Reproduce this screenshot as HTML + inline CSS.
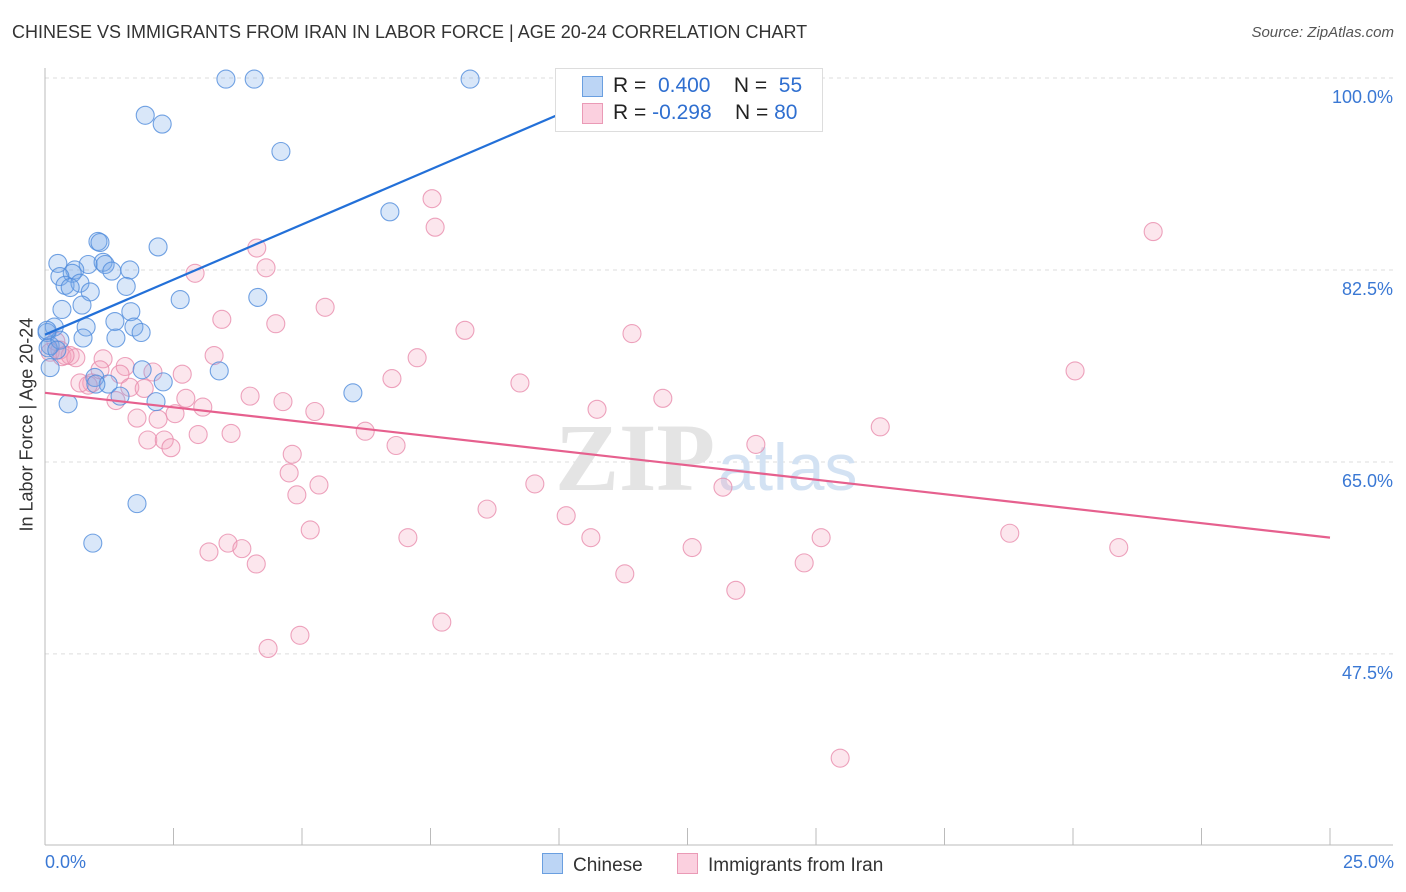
<!DOCTYPE html>
<html><head><meta charset="utf-8"><style>
body{margin:0;background:#fff;font-family:"Liberation Sans",sans-serif;}
#wrap{position:relative;width:1406px;height:892px;overflow:hidden;}
.t{position:absolute;white-space:nowrap;}
</style></head><body>
<div id="wrap">
<div class="t" style="left:12px;top:22px;font-size:18px;color:#333;">CHINESE VS IMMIGRANTS FROM IRAN IN LABOR FORCE | AGE 20-24 CORRELATION CHART</div>
<div class="t" style="right:12px;top:24px;font-size:15px;color:#555;font-style:italic;">Source: ZipAtlas.com</div>
<svg id="svg" width="1406" height="892" style="position:absolute;left:0;top:0"></svg>
</div>
<script>
const blueX=[3.52,4.07,8.27,1.95,2.28,4.59,6.71,2.20,1.03,1.07,0.25,0.84,1.13,1.17,0.58,0.53,1.65,1.30,0.29,0.39,0.68,1.58,0.88,0.49,2.63,4.14,0.33,0.72,1.67,1.36,1.73,0.80,1.87,0.18,0.04,1.38,0.74,0.10,0.06,0.29,1.89,3.39,0.10,2.30,0.97,1.23,1.46,0.45,2.16,5.99,1.79,0.93,0.99,0.23,0.04];
const blueY=[99.9,99.9,99.9,96.6,95.8,93.3,87.8,84.6,85.1,85.0,83.1,83.0,83.2,83.0,82.5,82.2,82.5,82.4,81.9,81.1,81.3,81.0,80.5,80.9,79.8,80.0,78.9,79.3,78.7,77.8,77.3,77.3,76.8,77.3,76.8,76.3,76.3,75.6,75.4,76.1,73.4,73.3,73.6,72.3,72.7,72.1,71.0,70.3,70.5,71.3,61.2,57.6,72.1,75.2,77.0];
const pinkX=[7.53,7.59,21.56,4.12,4.30,2.92,5.45,3.44,4.49,8.17,11.42,20.04,0.21,0.29,0.10,0.33,0.49,0.60,1.13,3.29,7.24,1.56,2.10,2.67,1.46,6.75,9.24,0.91,0.84,1.65,1.93,3.99,4.63,2.74,1.38,3.07,12.02,10.74,5.25,2.53,1.79,2.20,16.25,6.23,3.62,2.98,2.00,2.32,2.45,6.83,13.83,4.81,4.75,9.53,5.33,13.19,4.90,8.60,10.14,5.16,18.77,7.06,10.62,15.10,3.56,12.59,20.89,3.19,3.83,4.11,14.77,11.28,13.44,7.72,4.96,4.34,15.47,0.68,1.07,0.39];
const pinkY=[89.0,86.4,86.0,84.5,82.7,82.2,79.1,78.0,77.6,77.0,76.7,73.3,76.0,75.2,75.0,74.6,74.7,74.5,74.4,74.7,74.5,73.7,73.2,73.0,73.0,72.6,72.2,72.2,72.0,71.8,71.7,71.0,70.5,70.8,70.6,70.0,70.8,69.8,69.6,69.4,69.0,68.9,68.2,67.8,67.6,67.5,67.0,67.0,66.3,66.5,66.6,65.7,64.0,63.0,62.9,62.7,62.0,60.7,60.1,58.8,58.5,58.1,58.1,58.1,57.6,57.2,57.2,56.8,57.1,55.7,55.8,54.8,53.3,50.4,49.2,48.0,38.0,72.2,73.4,74.7];
const blueTrendX=[0,12];
const blueTrendY=[76.6,100.7];
const pinkTrendX=[0,25];
const pinkTrendY=[71.3,58.1];
const yTicks=[100,82.5,65,47.5];
const yTickLabels=["100.0%","82.5%","65.0%","47.5%"];

const NS="http://www.w3.org/2000/svg";
const svg=document.getElementById('svg');
const sx=v=>45+v/25*1285;
const sy=v=>78+(100-v)*10.97;
function mk(tag,attrs,parent){const e=document.createElementNS(NS,tag);for(const k in attrs)e.setAttribute(k,attrs[k]);(parent||svg).appendChild(e);return e;}

yTicks.forEach((t,i)=>{
  const g=mk('line',{x1:45,x2:1393,y1:sy(t),y2:sy(t),stroke:'#ddd','stroke-dasharray':'4,4'});
  
  
  const tx=mk('text',{x:1393,y:sy(t)+25,'text-anchor':'end','font-size':18,fill:'#3a78d4','font-family':'Liberation Sans, sans-serif'});
  tx.textContent=yTickLabels[i];
  
  
});
const wm=mk('text',{x:555,y:490,'font-size':96,fill:'#e4e4e4','font-family':'Liberation Serif, serif','font-weight':'bold'});
wm.textContent='ZIP';


const wm2=mk('text',{x:718,y:490,'font-size':66,fill:'#d3e2f3','font-family':'Liberation Sans, sans-serif'});
wm2.textContent='atlas';


const ax=mk('line',{x1:45,x2:1393,y1:845,y2:845,stroke:'#bbb'});


const ay=mk('line',{x1:45,x2:45,y1:68,y2:845,stroke:'#bbb'});


for(let i=0;i<=10;i++){
  const tk=mk('line',{x1:sx(i*2.5),x2:sx(i*2.5),y1:828,y2:845,stroke:'#bbb'});
  
  
}
function pts(X,Y,fill,stroke,name){
  X.forEach((x,i)=>{
    const c=mk('circle',{cx:sx(x),cy:sy(Y[i]),r:9,fill:fill,stroke:stroke,'stroke-width':1.1});
    
    
  });
}
pts(pinkX,pinkY,'rgba(244,165,192,0.28)','rgba(232,140,172,0.8)','iran-point');
pts(blueX,blueY,'rgba(120,170,232,0.28)','rgba(80,140,220,0.8)','chinese-point');
const bl=mk('line',{x1:sx(blueTrendX[0]),y1:sy(blueTrendY[0]),x2:sx(blueTrendX[1]),y2:sy(blueTrendY[1]),stroke:'#2370d8','stroke-width':2.2});


const pl=mk('line',{x1:sx(pinkTrendX[0]),y1:sy(pinkTrendY[0]),x2:sx(pinkTrendX[1]),y2:sy(pinkTrendY[1]),stroke:'#e6608e','stroke-width':2.2});


</script>
<div class="t" style="left:555px;top:68px;width:266px;height:62px;background:#fff;border:1px solid #ddd;"></div>
<div class="t" style="left:582px;top:76px;width:19px;height:19px;background:#bcd5f5;border:1px solid #6a9fe0;"></div>
<div class="t" style="left:613px;top:74px;font-size:21px;color:#222;">R = &nbsp;<span style="color:#2f6fd0">0.400</span>&nbsp;&nbsp;&nbsp; N = &nbsp;<span style="color:#2f6fd0">55</span></div>
<div class="t" style="left:582px;top:103px;width:19px;height:19px;background:#fbd0df;border:1px solid #ea9ab6;"></div>
<div class="t" style="left:613px;top:101px;font-size:21px;color:#222;">R = <span style="color:#2f6fd0">-0.298</span>&nbsp;&nbsp;&nbsp; N = <span style="color:#2f6fd0">80</span></div>
<div class="t" style="left:-48px;top:446px;font-size:18px;color:#333;transform:rotate(-90deg);transform-origin:center;width:150px;text-align:center;">In Labor Force | Age 20-24</div>
<div class="t" style="left:45px;top:852px;font-size:18px;color:#3a78d4;">0.0%</div>
<div class="t" style="right:12px;top:852px;font-size:18px;color:#3a78d4;">25.0%</div>
<div class="t" style="left:542px;top:853px;font-size:19px;color:#333;"><span style="display:inline-block;width:19px;height:19px;background:#bcd5f5;border:1px solid #6a9fe0;vertical-align:-3px;margin-right:10px"></span>Chinese</div>
<div class="t" style="left:677px;top:853px;font-size:19px;color:#333;"><span style="display:inline-block;width:19px;height:19px;background:#fbd0df;border:1px solid #ea9ab6;vertical-align:-3px;margin-right:10px"></span>Immigrants from Iran</div>
</body></html>
